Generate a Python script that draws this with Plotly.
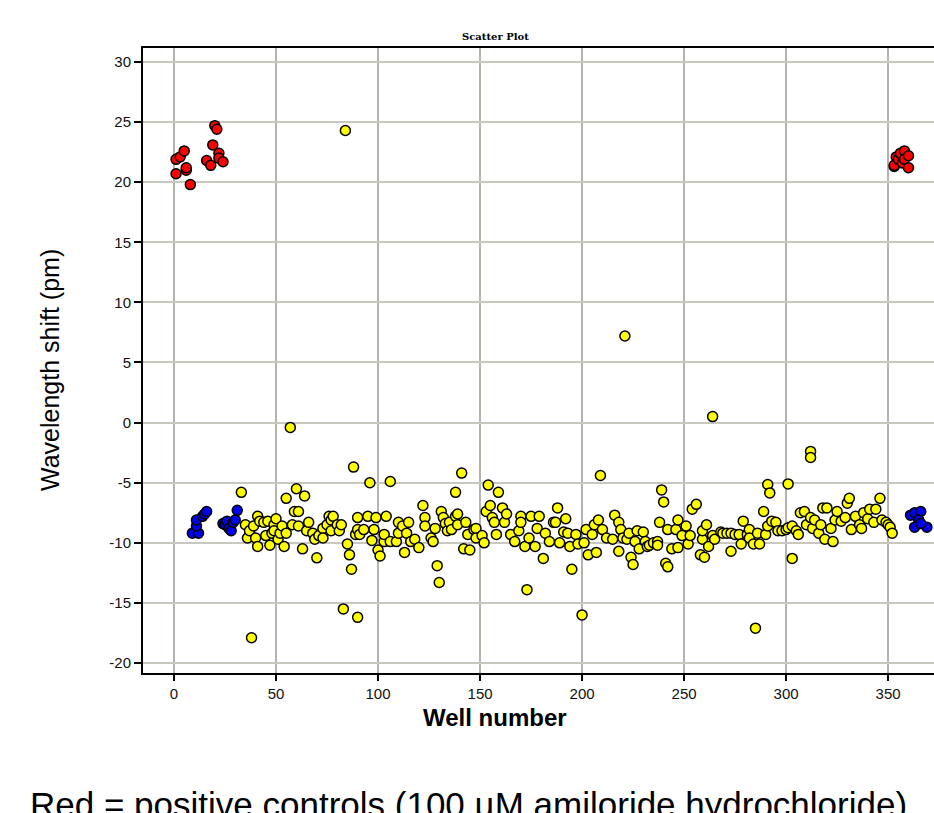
import plotly.graph_objects as go

# ---------------- data ----------------
yellow_wells = [33, 35, 36, 37, 38, 39, 40, 41, 41, 42, 44, 45, 46, 47, 48, 49, 49, 50, 51, 52,
                53, 54, 55, 55, 57, 58, 59, 60, 61, 61, 63, 64, 65, 66, 68, 69, 70, 71, 73, 73,
                75, 76, 77, 77, 78, 80, 81, 82, 83, 84, 85, 86, 87, 88, 89, 90, 90, 90, 91, 93,
                95, 96, 97, 98, 99, 100, 101, 103, 104, 103, 106, 106, 109, 110, 110, 112, 113, 114, 115, 116,
                118, 120, 122, 123, 123, 126, 127, 128, 129, 130, 131, 132, 133, 134, 135, 136, 138, 138, 139, 139,
                141, 142, 143, 144, 145, 147, 148, 148, 151, 152, 153, 154, 155, 156, 157, 158, 159, 161, 162, 163,
                165, 167, 169, 170, 170, 172, 173, 174, 175, 177, 178, 179, 181, 182, 184, 186, 187, 188, 189, 191,
                192, 193, 194, 195, 197, 198, 200, 201, 202, 203, 205, 206, 207, 208, 209, 210, 212, 215, 216, 218,
                218, 219, 220, 221, 222, 223, 224, 225, 226, 227, 228, 230, 231, 232, 233, 235, 237, 237, 238, 239,
                240, 241, 242, 242, 244, 246, 247, 247, 249, 251, 252, 253, 254, 256, 258, 259, 259, 260, 261, 262,
                264, 264, 265, 268, 269, 271, 273, 273, 275, 277, 278, 279, 281, 282, 282, 284, 285, 286, 287, 289,
                290, 291, 291, 292, 293, 295, 296, 298, 300, 301, 301, 303, 303, 305, 306, 307, 309, 310, 312, 312,
                312, 313, 314, 316, 317, 318, 319, 320, 322, 323, 324, 325, 327, 329, 330, 331, 332, 334, 336, 337,
                338, 340, 341, 343, 344, 346, 347, 349, 350, 351, 352]
yellow_shift = [-5.8, -8.5, -9.6, -9.0, -17.9, -8.6, -9.6, -7.8, -10.3, -8.2, -8.3, -9.4, -8.2, -10.2, -9.2, -8.5, -9.0, -8.0, -9.7, -9.2,
                -8.6, -10.3, -9.2, -6.3, -0.4, -8.5, -7.4, -5.5, -7.4, -8.6, -10.5, -6.1, -9.0, -8.3, -9.2, -9.7, -11.25, -9.4, -8.8, -9.6,
                -8.5, -7.8, -9.0, -8.1, -7.8, -8.5, -9.0, -8.5, -15.5, 24.3, -10.1, -11.0, -12.2, -3.7, -9.3, -7.9, -16.2, -8.9, -9.3, -8.9,
                -7.8, -5.0, -9.8, -8.9, -7.9, -10.6, -11.1, -9.9, -7.8, -9.3, -4.9, -9.9, -9.9, -9.2, -8.3, -8.6, -10.8, -9.2, -8.3, -9.9,
                -9.7, -10.4, -6.9, -7.9, -8.6, -9.6, -9.9, -8.8, -11.9, -13.3, -7.4, -7.9, -8.4, -9.0, -8.3, -8.9, -7.8, -5.8, -7.6, -8.5,
                -4.2, -10.5, -8.3, -9.3, -10.6, -8.9, -8.8, -9.6, -9.4, -10.0, -7.4, -5.2, -6.9, -7.9, -8.3, -9.3, -5.8, -7.1, -8.3, -7.6,
                -9.3, -9.9, -9.0, -7.8, -8.3, -10.3, -13.9, -9.6, -7.8, -10.3, -8.8, -7.8, -11.3, -9.2, -9.9, -8.3, -8.3, -7.1, -10.0, -9.1,
                -8.0, -9.2, -10.3, -12.2, -9.3, -10.1, -16.0, -10.0, -8.9, -11.0, -9.3, -8.5, -10.8, -8.1, -4.4, -8.9, -9.6, -9.7, -7.7, -8.3,
                -10.7, -8.9, -9.6, 7.2, -9.7, -9.2, -11.2, -11.8, -9.9, -9.0, -10.5, -9.1, -9.9, -10.3, -10.2, -10.0, -9.9, -10.2, -8.3, -5.6,
                -6.6, -11.7, -12.0, -8.9, -10.5, -8.9, -8.1, -10.4, -9.4, -8.6, -10.1, -9.4, -7.2, -6.8, -11.0, -9.7, -9.0, -11.2, -8.5, -10.3,
                0.5, -9.4, -9.7, -9.1, -9.2, -9.2, -9.2, -10.7, -9.3, -9.3, -10.1, -8.2, -9.3, -8.9, -9.6, -10.1, -17.1, -9.2, -10.1, -7.4,
                -9.3, -8.6, -5.15, -5.85, -8.2, -8.3, -9.0, -9.0, -8.9, -5.1, -8.75, -8.6, -11.3, -9.0, -9.3, -7.5, -7.4, -8.5, -7.9, -2.4,
                -2.9, -8.8, -8.1, -9.2, -8.5, -7.1, -9.7, -7.1, -8.8, -9.9, -8.1, -7.4, -8.2, -7.9, -6.7, -6.3, -8.9, -7.8, -8.5, -8.8,
                -7.5, -8.0, -7.2, -8.3, -7.2, -6.3, -8.1, -8.3, -8.5, -8.7, -9.2]

blue_wells = [9, 12, 11, 11, 14, 15, 16, 24, 25, 26, 27, 28, 29, 30, 31,
              361, 363, 366, 365, 363, 369, 366]
blue_shift = [-9.2, -9.2, -8.6, -8.1, -7.8, -7.6, -7.4, -8.4, -8.5, -8.2, -8.8, -9.0, -8.3, -8.1, -7.3,
              -7.7, -7.5, -7.4, -8.1, -8.7, -8.7, -8.4]

red_wells = [1, 1, 3, 5, 6, 6, 8, 16, 18, 19, 20, 21, 22, 22, 24,
             353, 353, 354, 355, 356, 357, 358, 358, 360, 360]
red_shift = [21.9, 20.7, 22.1, 22.6, 21.0, 21.2, 19.8, 21.8, 21.4, 23.1, 24.7, 24.4, 22.4, 22.0, 21.7,
             21.3, 21.4, 22.1, 21.9, 22.4, 21.6, 22.6, 21.9, 22.2, 21.2]

x_ticks = [0, 50, 100, 150, 200, 250, 300, 350]
x_tick_labels = ["0", "50", "100", "150", "200", "250", "300", "350"]
y_ticks = [30, 25, 20, 15, 10, 5, 0, -5, -10, -15, -20]
y_tick_labels = ["30", "25", "20", "15", "10", "5", "0", "-5", "-10", "-15", "-20"]

# ---------------- figure ----------------
W, H = 934, 813
L, R, T, B = 143, 0, 48, 140


def px_x(px):
    return (px - L) / (W - L - R)


def px_y(py):
    return (H - B - py) / (H - T - B)


def marker(color):
    return dict(size=10, color=color, line=dict(color="black", width=1.5))


fig = go.Figure()
fig.add_trace(go.Scatter(x=yellow_wells, y=yellow_shift, mode="markers",
                         marker=marker("#FFFF00"), showlegend=False))
fig.add_trace(go.Scatter(x=blue_wells, y=blue_shift, mode="markers",
                         marker=marker("#0000F0"), showlegend=False))
fig.add_trace(go.Scatter(x=red_wells, y=red_shift, mode="markers",
                         marker=marker("#FF0000"), showlegend=False))

tick_font = dict(family="Liberation Sans, Arial, sans-serif", size=15, color="#111111")
sans = "Liberation Sans, Arial, sans-serif"

fig.update_layout(
    width=W, height=H,
    margin=dict(l=L, r=R, t=T, b=B, pad=0),
    paper_bgcolor="white", plot_bgcolor="white",
    xaxis=dict(range=[-15.2, 372.5], tickvals=x_ticks, ticktext=x_tick_labels,
               showgrid=True, gridcolor="#b4b4ac", gridwidth=2, zeroline=False,
               showline=True, linecolor="black", linewidth=2, mirror=True,
               ticks="outside", ticklen=6, tickwidth=1.5, tickcolor="black",
               tickfont=tick_font),
    yaxis=dict(range=[-20.83, 31.16], tickvals=y_ticks, ticktext=y_tick_labels,
               showgrid=True, gridcolor="#c8c8c0", gridwidth=1.5, zeroline=False,
               showline=True, linecolor="black", linewidth=2,
               ticks="outside", ticklen=7, tickwidth=1.5, tickcolor="black",
               tickfont=tick_font),
    annotations=[
        dict(text="<b>Scatter Plot</b>", xref="paper", yref="paper",
             x=px_x(495), y=px_y(37), xanchor="center", yanchor="middle", showarrow=False,
             font=dict(family="DejaVu Serif, serif", size=10, color="black")),
        dict(text="<b>Well number</b>", xref="paper", yref="paper",
             x=px_x(495), y=px_y(717), xanchor="center", yanchor="middle", showarrow=False,
             font=dict(family=sans, size=24, color="black")),
        dict(text="Wavelength shift (pm)", xref="paper", yref="paper",
             x=px_x(50), y=px_y(370), xanchor="center", yanchor="middle",
             showarrow=False, textangle=-90,
             font=dict(family=sans, size=25, color="black")),
        dict(text="Red = positive controls (100 µM amiloride hydrochloride)",
             xref="paper", yref="paper", x=px_x(28), y=px_y(783),
             xanchor="left", yanchor="top", showarrow=False,
             font=dict(family=sans, size=35, color="black")),
    ],
)

fig.write_html("out.html")
